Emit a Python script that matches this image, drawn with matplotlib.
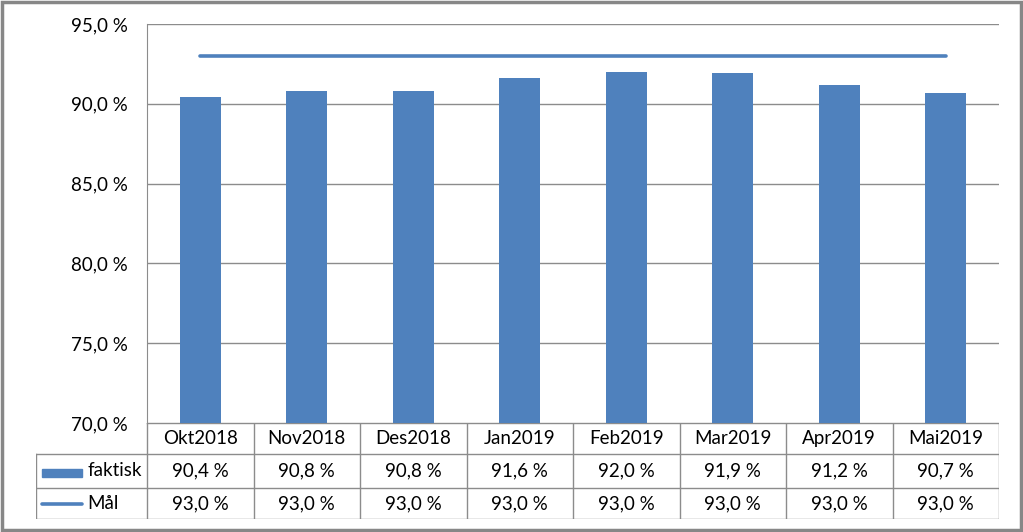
import numpy as np
import matplotlib.pyplot as plt
from matplotlib.patches import Rectangle
from matplotlib.lines import Line2D

# Data
maaneder = ['Okt2018', 'Nov2018', 'Des2018', 'Jan2019', 'Feb2019', 'Mar2019', 'Apr2019', 'Mai2019']
faktisk = [90.4, 90.8, 90.8, 91.6, 92.0, 91.9, 91.2, 90.7]
maal = [93.0, 93.0, 93.0, 93.0, 93.0, 93.0, 93.0, 93.0]
y_ticks = [70, 75, 80, 85, 90, 95]

plt.rcParams['font.family'] = ['Lato', 'DejaVu Sans']
fs = 13.5
blaa = '#4F81BD'
graa = '#8C8C8C'

W, H = 1023, 532
fig = plt.figure(figsize=(W / 100, H / 100), dpi=100)

def fx(px):
    return px / W

def fy(py):
    return 1 - py / H

# Plot area
x0, x1, ytop, ybot = 147, 999, 24, 423
ax = fig.add_axes([fx(x0), fy(ybot), fx(x1) - fx(x0), fy(ytop) - fy(ybot)])
x = np.arange(len(maaneder))
ax.bar(x, faktisk, width=0.385, color=blaa, zorder=3)
ax.plot(x, maal, color=blaa, linewidth=2.6, solid_capstyle='round', zorder=4)
ax.set_xlim(-0.5, len(maaneder) - 0.5)
ax.set_ylim(70, 95)
ax.set_yticks(y_ticks)
ax.set_yticklabels([f'{v:.1f} %'.replace('.', ',') for v in y_ticks], fontsize=fs)
ax.tick_params(axis='y', length=0, pad=14)
ax.set_xticks([])
ax.grid(axis='y', color=graa, linewidth=1.0, zorder=0)
for s in ['top', 'right', 'bottom']:
    ax.spines[s].set_visible(False)
ax.spines['left'].set_color(graa)

# Data table below
tx0, tb = 36, 519
tab = fig.add_axes([fx(tx0), fy(tb), fx(x1) - fx(tx0), fy(ybot) - fy(tb)])
cw = (x1 - x0) / len(maaneder)
left = -0.5 - (x0 - tx0) / cw
tab.set_xlim(left, len(maaneder) - 0.5)
tab.set_ylim(tb, ybot)
tab.axis('off')
rows = [ybot, 454, 488, tb]
lkw = dict(color=graa, linewidth=1.0)
tab.plot([-0.5, len(maaneder) - 0.5], [ybot, ybot], **lkw)
for r in rows[1:]:
    tab.plot([left, len(maaneder) - 0.5], [r, r], **lkw)
tab.plot([left, left], [rows[1], tb], **lkw)
for i in range(len(maaneder) + 1):
    tab.plot([i - 0.5, i - 0.5], [ybot, tb], **lkw)

def fmt(v):
    return f'{v:.1f} %'.replace('.', ',')

for i, m in enumerate(maaneder):
    tab.text(i, (rows[0] + rows[1]) / 2, m, ha='center', va='center', fontsize=fs)
    tab.text(i, (rows[1] + rows[2]) / 2, fmt(faktisk[i]), ha='center', va='center', fontsize=fs)
    tab.text(i, (rows[2] + rows[3]) / 2, fmt(maal[i]), ha='center', va='center', fontsize=fs)

# Legend keys in the table
sx0 = left + (42 - tx0) / cw
sx1 = left + (82 - tx0) / cw
tab.add_patch(Rectangle((sx0, 469), sx1 - sx0, 8, color=blaa))
tab.plot([sx0, sx1], [504, 504], color=blaa, linewidth=2.6, solid_capstyle='round')
tab.text(left + (87 - tx0) / cw, (rows[1] + rows[2]) / 2, 'faktisk', ha='left', va='center', fontsize=fs)
tab.text(left + (87 - tx0) / cw, (rows[2] + rows[3]) / 2, 'Mål', ha='left', va='center', fontsize=fs)

# Outer border
fig.add_artist(Rectangle((0.0015, 0.003), 0.997, 0.994, transform=fig.transFigure,
                         fill=False, edgecolor='#878787', linewidth=2.5))

fig.savefig('out.png', dpi=100)
